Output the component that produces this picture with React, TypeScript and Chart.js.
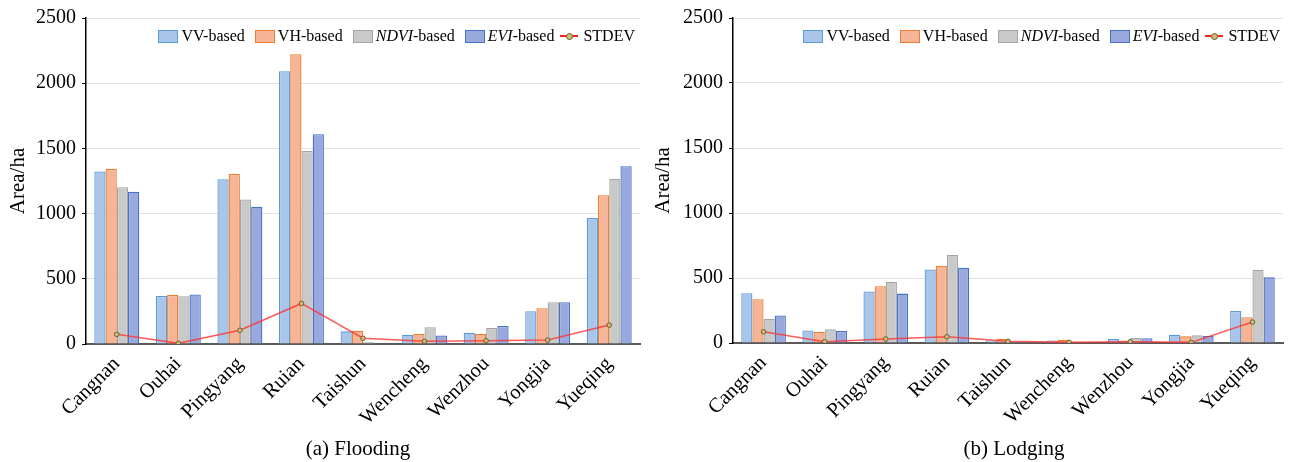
import React, { useEffect, useRef } from "react";
import { Chart, registerables } from "chart.js";
Chart.register(...registerables);

const categories = ["Cangnan", "Ouhai", "Pingyang", "Ruian", "Taishun", "Wencheng", "Wenzhou", "Yongjia", "Yueqing"];

const floodVV = [1323, 369, 1264, 2092, 97, 71, 86, 252, 966];
const floodVH = [1343, 377, 1305, 2222, 102, 76, 76, 275, 1141];
const floodNDVI = [1203, 367, 1108, 1481, 13, 128, 122, 321, 1267];
const floodEVI = [1167, 380, 1053, 1608, 5, 66, 138, 320, 1363];
const floodSTDEV = [74, 5, 105, 311, 44, 21, 25, 30, 145];

const lodgeVV = [383, 97, 396, 566, 20, 20, 31, 64, 247];
const lodgeVH = [337, 84, 436, 592, 31, 25, 20, 51, 199];
const lodgeNDVI = [186, 105, 472, 676, 8, 5, 38, 59, 564];
const lodgeEVI = [212, 92, 380, 579, 8, 8, 36, 53, 505];
const lodgeSTDEV = [86, 10, 31, 48, 13, 5, 10, 5, 161];

const yTicks = [0, 500, 1000, 1500, 2000, 2500];

const seriesNames = ["VV-based", "VH-based", "NDVI-based", "EVI-based"];
const italicPrefix = ["", "", "NDVI", "EVI"];
const lineName = "STDEV";

const fills = ["#a9c6ea", "#f6b597", "#c9c9c9", "#9aa9dd"];
const borders = ["#5b9bd5", "#ed7d31", "#a5a5a5", "#4472c4"];
const lineColor = "rgba(255,50,50,0.8)";
const pointFill = "#cbbd7c";
const pointBorder = "#6b5e2e";

const SERIF = "'Liberation Serif', 'Times New Roman', serif";

type Geo = { left: number; padRight: number; top: number; xH: number };

function ChartPanel(props: { series: number[][]; stdev: number[]; geo: Geo }) {
  const ref = useRef<HTMLCanvasElement | null>(null);
  useEffect(() => {
    if (!ref.current) return;
    const { series, stdev, geo } = props;
    const datasets: any[] = series.map((d, i) => ({
      type: "bar",
      label: seriesNames[i],
      data: d,
      backgroundColor: fills[i],
      borderColor: borders[i],
      borderWidth: 1.3,
      categoryPercentage: 0.73,
      barPercentage: 1.0,
      order: 2,
    }));
    datasets.push({
      type: "line",
      label: lineName,
      data: stdev,
      borderColor: lineColor,
      borderWidth: 1.5,
      pointRadius: 2.3,
      pointBackgroundColor: pointFill,
      pointBorderColor: pointBorder,
      pointBorderWidth: 1,
      tension: 0,
      order: 0,
    });
    const chart = new Chart(ref.current, {
      type: "bar",
      data: { labels: categories, datasets },
      options: {
        animation: false,
        responsive: true,
        maintainAspectRatio: false,
        layout: { padding: { left: 0, right: geo.padRight, top: geo.top, bottom: 0 } },
        plugins: { legend: { display: false }, tooltip: { enabled: false }, title: { display: false } },
        scales: {
          x: {
            ticks: {
              font: { family: SERIF, size: 20.5 },
              color: "#000",
              maxRotation: 45,
              minRotation: 45,
              autoSkip: false,
              padding: 8,
            },
            grid: { display: true, color: "transparent", drawTicks: false },
            border: { color: "#595959", width: 2 },
            afterFit: (s: any) => {
              s.height = geo.xH;
            },
          },
          y: {
            min: 0,
            max: 2500,
            afterBuildTicks: (s: any) => {
              s.ticks = yTicks.map((v) => ({ value: v }));
            },
            ticks: {
              font: { family: SERIF, size: 20 },
              color: "#000",
              padding: 6,
              callback: (v: any) => String(v),
            },
            grid: {
              color: (ctx: any) => (ctx.tick && ctx.tick.value === 0 ? "transparent" : "#e3e3e3"),
              tickColor: "#000",
              tickLength: 4,
              lineWidth: 1,
            },
            border: { color: "#000", width: 1.5 },
            title: {
              display: true,
              text: "Area/ha",
              font: { family: SERIF, size: 21 },
              color: "#000",
              padding: { top: 6, bottom: 0 },
            },
            afterFit: (s: any) => {
              s.width = geo.left;
            },
          },
        },
      } as any,
    });
    return () => chart.destroy();
  }, []);
  return <canvas ref={ref} />;
}

function Legend(props: { right: number; top: number }) {
  const item = (i: number) => (
    <div key={i} style={{ display: "flex", alignItems: "center", marginLeft: i === 0 ? 0 : 10 }}>
      <div
        style={{
          width: 18,
          height: 11,
          background: fills[i],
          border: `1.5px solid ${borders[i]}`,
          marginRight: 3,
        }}
      />
      <span>
        {italicPrefix[i] ? <i>{italicPrefix[i]}</i> : null}
        {italicPrefix[i] ? seriesNames[i].slice(italicPrefix[i].length) : seriesNames[i]}
      </span>
    </div>
  );
  return (
    <div
      style={{
        position: "absolute",
        right: props.right,
        top: props.top,
        height: 18,
        display: "flex",
        alignItems: "center",
        fontFamily: SERIF,
        fontSize: 16,
        color: "#000",
        whiteSpace: "nowrap",
        background: "white",
      }}
    >
      {seriesNames.map((_, i) => item(i))}
      <div style={{ display: "flex", alignItems: "center", marginLeft: 6 }}>
        <div style={{ position: "relative", width: 18, height: 10, marginRight: 5 }}>
          <div style={{ position: "absolute", left: 0, right: 0, top: 4, height: 2, background: "#ff2020" }} />
          <div
            style={{
              position: "absolute",
              left: 6,
              top: 2,
              width: 5,
              height: 5,
              borderRadius: "50%",
              background: pointFill,
              border: `1px solid ${pointBorder}`,
            }}
          />
        </div>
        <span>{lineName}</span>
      </div>
    </div>
  );
}

export default function App() {
  return (
    <div style={{ position: "fixed", left: 0, top: 0, width: 1291, height: 462, background: "white", overflow: "hidden" }}>
      <div style={{ position: "absolute", left: 0, top: 0, width: 645, height: 462 }}>
        <ChartPanel
          series={[floodVV, floodVH, floodNDVI, floodEVI]}
          stdev={floodSTDEV}
          geo={{ left: 86, padRight: 3, top: 17, xH: 118 }}
        />
        <Legend right={10} top={27} />
      </div>
      <div style={{ position: "absolute", left: 645, top: 0, width: 646, height: 462 }}>
        <ChartPanel
          series={[lodgeVV, lodgeVH, lodgeNDVI, lodgeEVI]}
          stdev={lodgeSTDEV}
          geo={{ left: 88, padRight: 8, top: 16, xH: 119 }}
        />
        <Legend right={11} top={27} />
      </div>
      <div
        style={{
          position: "absolute",
          left: 258,
          width: 200,
          top: 436,
          textAlign: "center",
          fontFamily: SERIF,
          fontSize: 21,
          lineHeight: "24px",
          color: "#000",
        }}
      >
        (a) Flooding
      </div>
      <div
        style={{
          position: "absolute",
          left: 914,
          width: 200,
          top: 436,
          textAlign: "center",
          fontFamily: SERIF,
          fontSize: 21,
          lineHeight: "24px",
          color: "#000",
        }}
      >
        (b) Lodging
      </div>
    </div>
  );
}
